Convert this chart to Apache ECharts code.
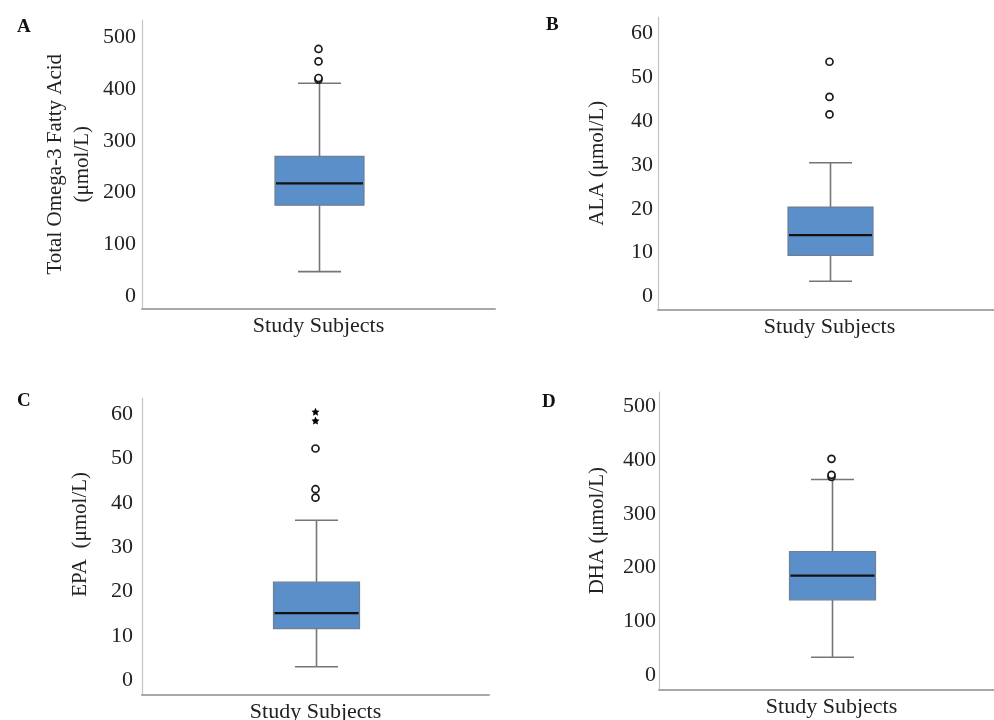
<!DOCTYPE html>
<html>
<head>
<meta charset="utf-8">
<script src="https://cdn.jsdelivr.net/npm/echarts@6/dist/echarts.min.js"></script>
<style>html,body{margin:0;padding:0;background:#fff}#c{width:994px;height:720px}</style>
</head>
<body>
<div id="c"></div>
<script>
// ---- data ----
const categories = ['Study Subjects'];
const panelLabels = ['A', 'B', 'C', 'D'];
const yTitles = ['Total Omega-3 Fatty Acid\n(μmol/L)', 'ALA (μmol/L)', 'EPA  (μmol/L)', 'DHA (μmol/L)'];
// [whisker low, Q1, median, Q3, whisker high]
const boxA = [48, 176, 218, 270, 411];
const boxB = [3.5, 9.4, 14.0, 20.4, 30.5];
const boxC = [3.0, 11.6, 15.1, 22.1, 36.1];
const boxD = [33, 140, 185, 230, 364];
const outliersA = [418, 421, 453, 477];
const outliersB = [41.5, 45.5, 53.5];
const outliersC = [41.2, 43.1, 52.3];
const extremesC = [58.6, 60.6];
const outliersD = [369, 372.7, 402.5];
const ticksA = [0, 100, 200, 300, 400, 500];
const ticksB = [0, 10, 20, 30, 40, 50, 60];
const ticksC = [0, 10, 20, 30, 40, 50, 60];
const ticksD = [0, 100, 200, 300, 400, 500];

// ---- layout / style ----
const FONT = '"Liberation Serif", "Times New Roman", serif';
const grids = [
  {left: 142, top: 20, width: 353, height: 288.5, outerBoundsMode: 'none'},
  {left: 658, top: 17, width: 343, height: 292.3, outerBoundsMode: 'none'},
  {left: 142, top: 398, width: 347, height: 296.7, outerBoundsMode: 'none'},
  {left: 659, top: 392, width: 345, height: 297.3, outerBoundsMode: 'none'}
];
const yRanges = [[-23.1, 532.8], [-2.9, 63.7], [-3.3, 63.7], [-26.6, 527]];
const yLabelMargins = [6, 5, 9, 3];
const nameGaps = [46, 47, 48, 48];
const namePads = [[0,0,0,0], [0,0,0,0], [0,0,0,24], [0,0,0,20]];
const boxWidths = [89, 85, 86, 86];
const capWidth = 43;
const titlePos = [[12, 13], [541, 11], [12, 387], [537, 388]];

const boxes = [boxA, boxB, boxC, boxD];
const outliers = [outliersA, outliersB, outliersC, outliersD];
const ticks = [ticksA, ticksB, ticksC, ticksD];

function makeRender(bw) {
  return function (params, api) {
    const x = api.value(0);
    const pLo = api.coord([x, api.value(1)]);
    const pQ1 = api.coord([x, api.value(2)]);
    const pMed = api.coord([x, api.value(3)]);
    const pQ3 = api.coord([x, api.value(4)]);
    const pHi = api.coord([x, api.value(5)]);
    const cx = Math.round(pMed[0]) + 0.5;
    const hb = bw / 2, hc = capWidth / 2;
    const wStyle = {stroke: '#767676', lineWidth: 1.6};
    return {
      type: 'group',
      children: [
        {type: 'line', shape: {x1: cx, y1: pHi[1], x2: cx, y2: pQ3[1]}, style: wStyle},
        {type: 'line', shape: {x1: cx, y1: pQ1[1], x2: cx, y2: pLo[1]}, style: wStyle},
        {type: 'line', shape: {x1: cx - hc, y1: pHi[1], x2: cx + hc, y2: pHi[1]}, style: wStyle},
        {type: 'line', shape: {x1: cx - hc, y1: pLo[1], x2: cx + hc, y2: pLo[1]}, style: wStyle},
        {type: 'rect', shape: {x: cx - hb, y: pQ3[1], width: bw, height: pQ1[1] - pQ3[1]},
          style: {fill: '#5b8fc9', stroke: '#6f7f95', lineWidth: 1.2}},
        {type: 'line', shape: {x1: cx - hb + 1, y1: pMed[1], x2: cx + hb - 1, y2: pMed[1]},
          style: {stroke: '#111', lineWidth: 2.2}}
      ]
    };
  };
}

const option = {
  backgroundColor: '#fff',
  animation: false,
  title: panelLabels.map((t, i) => ({
    text: t, left: titlePos[i][0], top: titlePos[i][1],
    textStyle: {fontFamily: FONT, fontWeight: 'bold', fontSize: 19, color: '#111'}
  })),
  grid: grids,
  xAxis: grids.map((g, i) => ({
    type: 'category', gridIndex: i, data: categories,
    axisLine: {show: true, onZero: false, lineStyle: {color: '#a8a8a8', width: 2}},
    axisTick: {show: false},
    axisLabel: {fontFamily: FONT, fontSize: 22, color: '#222', margin: 7},
    splitLine: {show: false}
  })),
  yAxis: grids.map((g, i) => ({
    type: 'value', gridIndex: i, min: yRanges[i][0], max: yRanges[i][1],
    name: yTitles[i], nameLocation: 'middle', nameGap: nameGaps[i], nameRotate: 90,
    nameTextStyle: {fontFamily: FONT, fontSize: 21, color: '#222', lineHeight: 27, padding: namePads[i]},
    axisLine: {show: true, onZero: false, lineStyle: {color: '#c4c4c4', width: 1.2}},
    axisTick: {show: false},
    splitLine: {show: false},
    axisLabel: {fontFamily: FONT, fontSize: 22, color: '#222', margin: yLabelMargins[i],
      customValues: ticks[i], showMinLabel: true, showMaxLabel: true}
  })),
  series: []
};

boxes.forEach((b, i) => {
  option.series.push({
    type: 'custom', xAxisIndex: i, yAxisIndex: i,
    renderItem: makeRender(boxWidths[i]),
    encode: {x: 0, y: [1, 2, 3, 4, 5]},
    data: [[0].concat(b)],
    z: 2
  });
  option.series.push({
    type: 'scatter', xAxisIndex: i, yAxisIndex: i,
    symbol: 'circle', symbolSize: 7,
    itemStyle: {color: '#fff', borderColor: '#1a1a1a', borderWidth: 1.7, opacity: 1},
    data: outliers[i].map(v => [0, v]),
    z: 3
  });
});
option.series.push({
  type: 'scatter', xAxisIndex: 2, yAxisIndex: 2,
  symbol: 'path://M0,-10L2.9,-4L9.5,-3.1L4.7,1.5L5.9,8.1L0,5L-5.9,8.1L-4.7,1.5L-9.5,-3.1L-2.9,-4Z',
  symbolSize: 8,
  itemStyle: {color: '#000', opacity: 1},
  data: extremesC.map(v => [0, v]),
  z: 3
});

const chart = echarts.init(document.getElementById('c'), null, {renderer: 'canvas'});
chart.setOption(option);
</script>
</body>
</html>
